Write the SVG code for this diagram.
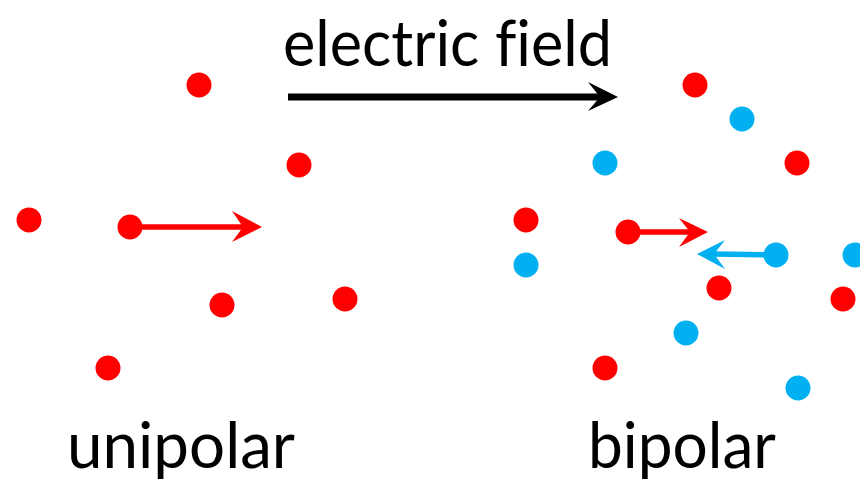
<svg xmlns="http://www.w3.org/2000/svg" width="860" height="482" viewBox="0 0 860 482">
  <style>
    .lbl { font-family: "Lato", "Open Sans", "Liberation Sans", sans-serif; font-size: 63px; fill: #000; font-variant-ligatures: none; font-feature-settings: "liga" 0, "clig" 0; }
    .pos { fill: #FF0000; }
    .neg { fill: #00B0F0; }
  </style>
  <rect width="860" height="482" fill="#fff"/>

  <!-- field direction -->
  <g id="field">
    <text class="lbl" x="283" y="66" textLength="329" lengthAdjust="spacingAndGlyphs">electric field</text>
    <line x1="288" y1="97" x2="600" y2="97" stroke="#000" stroke-width="7"/>
    <polygon points="618,97 588,82 600,97 588,111" fill="#000"/>
  </g>

  <!-- unipolar: positive charges only -->
  <g id="unipolar">
    <circle class="pos" cx="199" cy="85" r="12.5"/>
    <circle class="pos" cx="299" cy="165" r="12.5"/>
    <circle class="pos" cx="29" cy="220" r="12.5"/>
    <circle class="pos" cx="130" cy="227" r="12.5"/>
    <circle class="pos" cx="222" cy="305" r="12.5"/>
    <circle class="pos" cx="345" cy="299" r="12.5"/>
    <circle class="pos" cx="108" cy="368" r="12.5"/>
    <text class="lbl" x="67" y="468" textLength="228" lengthAdjust="spacingAndGlyphs">unipolar</text>
  </g>

  <!-- bipolar: positive and negative charges -->
  <g id="bipolar">
    <circle class="pos" cx="695" cy="85" r="12.5"/>
    <circle class="neg" cx="742" cy="119" r="12.5"/>
    <circle class="neg" cx="605" cy="163" r="12.5"/>
    <circle class="pos" cx="797" cy="163" r="12.5"/>
    <circle class="pos" cx="526" cy="220" r="12.5"/>
    <circle class="neg" cx="526" cy="265" r="12.5"/>
    <circle class="pos" cx="628" cy="232" r="12.5"/>
    <circle class="neg" cx="776" cy="255" r="12.5"/>
    <circle class="neg" cx="855" cy="255" r="12.5"/>
    <circle class="pos" cx="719" cy="288" r="12.5"/>
    <circle class="pos" cx="843" cy="299" r="12.5"/>
    <circle class="neg" cx="686" cy="333" r="12.5"/>
    <circle class="pos" cx="605" cy="368" r="12.5"/>
    <circle class="neg" cx="798" cy="388" r="12.5"/>
    <text class="lbl" x="588" y="468" textLength="188" lengthAdjust="spacingAndGlyphs">bipolar</text>
  </g>

  <!-- drift arrows -->
  <g id="connectors">
    <line x1="130" y1="227" x2="245" y2="227" stroke="#FF0000" stroke-width="5.5"/>
    <polygon points="262,227 232,211 243,227 232,242" fill="#FF0000"/>
    <line x1="628" y1="232" x2="692" y2="232" stroke="#FF0000" stroke-width="5.5"/>
    <polygon points="708,232 679,218 690,232 679,247" fill="#FF0000"/>
    <line x1="776" y1="255" x2="713" y2="254" stroke="#00B0F0" stroke-width="5.5"/>
    <polygon points="697,254 725,240 714,254 725,269" fill="#00B0F0"/>
  </g>
</svg>
